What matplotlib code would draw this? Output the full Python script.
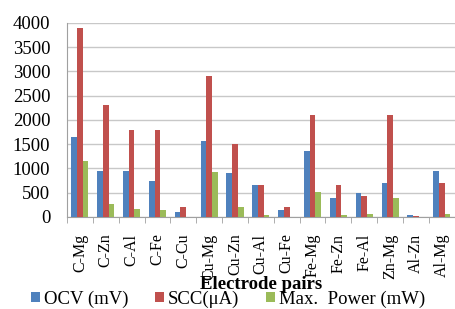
import matplotlib
matplotlib.use('Agg')
import matplotlib.pyplot as plt
import numpy as np

pairs = ['C-Mg', 'C-Zn', 'C-Al', 'C-Fe', 'C-Cu', 'Cu-Mg', 'Cu-Zn', 'Cu-Al',
         'Cu-Fe', 'Fe-Mg', 'Fe-Zn', 'Fe-Al', 'Zn-Mg', 'Al-Zn', 'Al-Mg']
ocv = [1650, 950, 950, 750, 100, 1570, 900, 650, 150, 1360, 400, 500, 700, 30, 950]
scc = [3900, 2300, 1800, 1800, 210, 2900, 1500, 650, 210, 2100, 660, 430, 2100, 15, 700]
power = [1150, 260, 160, 140, 0, 920, 200, 40, 5, 510, 30, 70, 400, 0, 70]
yticks = list(range(0, 4001, 500))

series_names = ['OCV (mV)', 'SCC(\u03bcA)', 'Max.  Power (mW)']
colors = ['#4F81BD', '#C0504D', '#9BBB59']

plt.rcParams['font.family'] = ['Liberation Serif', 'DejaVu Serif']

fig = plt.figure(figsize=(4.56, 3.09), dpi=100)
ax = fig.add_axes([0.147, 0.298, 0.85, 0.628])

x = np.arange(len(pairs))
w = 0.22
for i, (vals, name, c) in enumerate(zip([ocv, scc, power], series_names, colors)):
    ax.bar(x + (i - 1) * w, vals, w, color=c, label=name, zorder=3)

ax.set_xlim(-0.5, len(pairs) - 0.5)
ax.set_ylim(0, 4000)
ax.set_yticks(yticks)
ax.set_yticklabels([str(v) for v in yticks])
ax.tick_params(axis='y', length=0, labelsize=13.5, pad=12)
ax.yaxis.grid(True, color='#c8c8c8', linewidth=1, zorder=0)

ax.set_xticks(x)
ax.set_xticklabels(pairs, rotation=90, fontsize=11.5)
ax.set_xticks(np.arange(-0.5, len(pairs)), minor=True)
ax.tick_params(axis='x', which='major', length=0, pad=12)
ax.tick_params(axis='x', which='minor', length=4, color='#a0a0a0')

for s in ['top', 'right']:
    ax.spines[s].set_visible(False)
for s in ['left', 'bottom']:
    ax.spines[s].set_color('#a0a0a0')

ax.set_xlabel('Electrode pairs', fontsize=13.5, fontweight='bold', va='center')
ax.xaxis.set_label_coords(0.5, -0.35)

fig.legend(loc='center', bbox_to_anchor=(0.5, 0.032), ncol=3, frameon=False,
           fontsize=13.5, handlelength=0.5, handleheight=0.5, handletextpad=0.2,
           columnspacing=1.4, borderpad=0)

fig.savefig('out.png', dpi=100)
